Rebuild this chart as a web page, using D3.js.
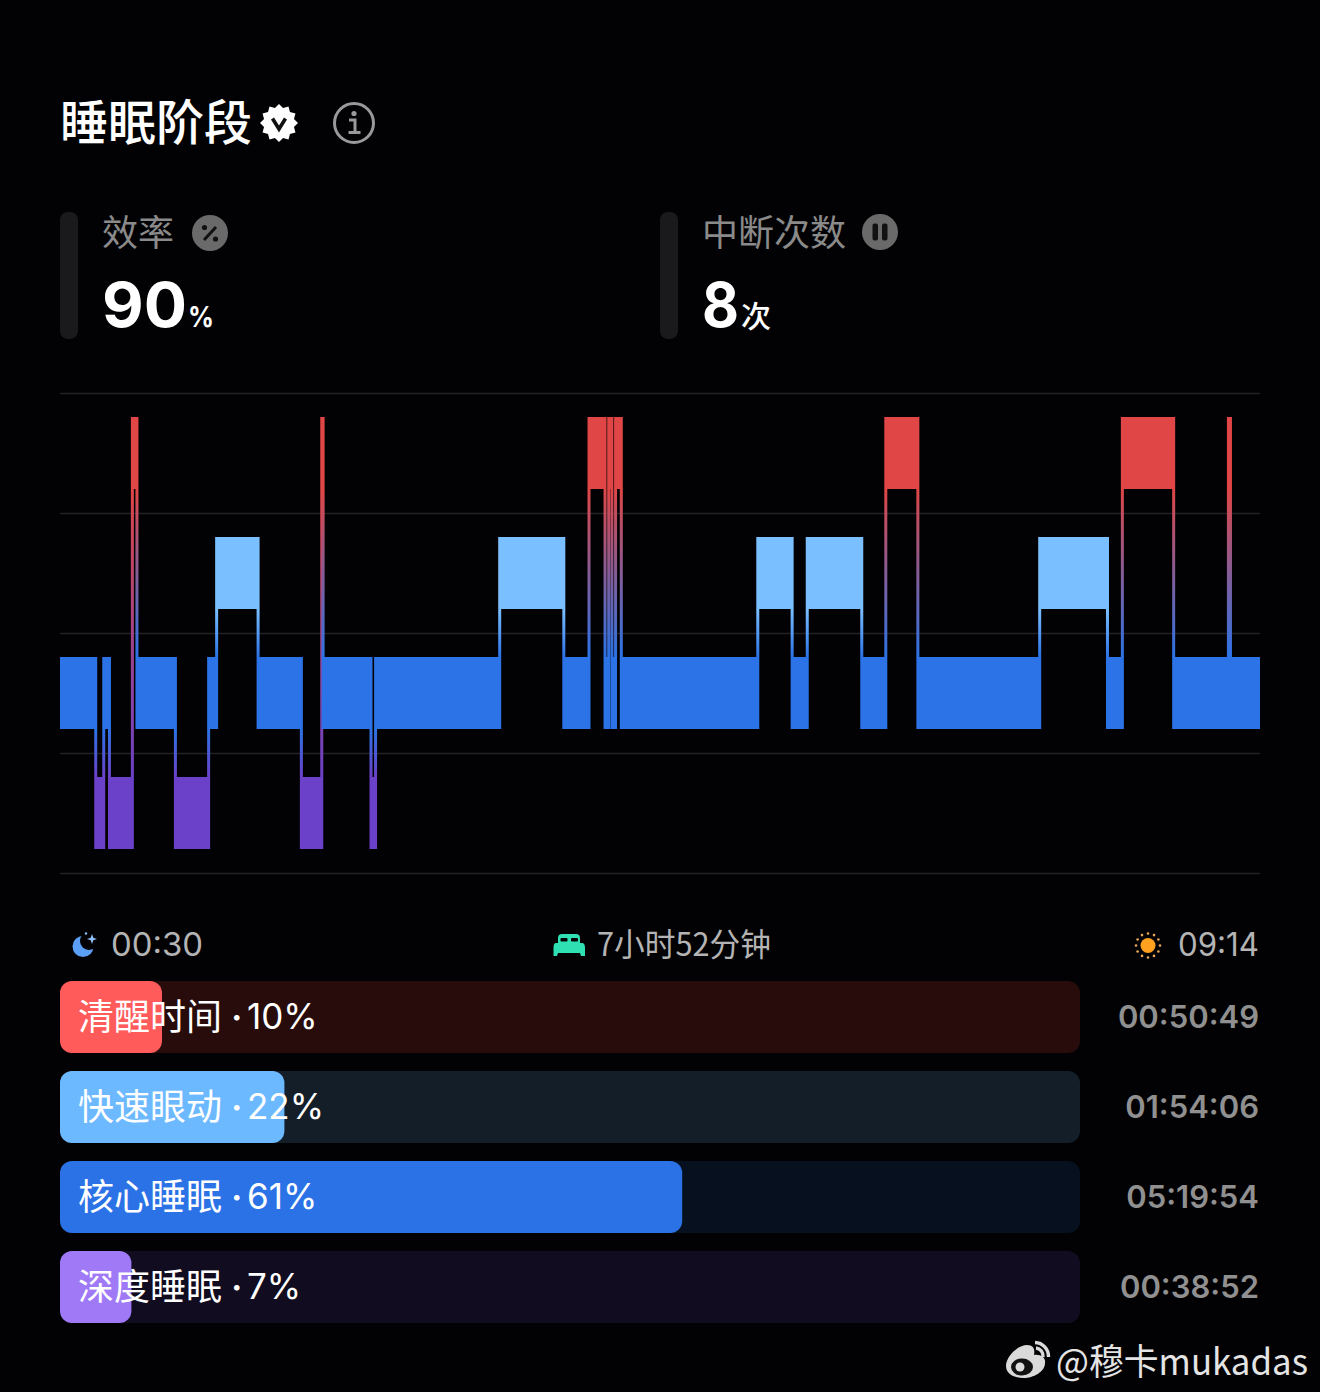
<!DOCTYPE html>
<html><head><meta charset="utf-8">
<script src="https://cdnjs.cloudflare.com/ajax/libs/d3/7.8.5/d3.min.js"></script>
<style>html,body{margin:0;padding:0;background:#020204}svg{display:block}
text{font-family:"Inter","Noto Sans CJK SC",sans-serif}
.cjk{font-family:"Noto Sans CJK SC","Inter",sans-serif}</style></head><body>
<svg id="c" width="1320" height="1392"></svg>
<script>
// ---- data ----
const stageNames = ["awake","rem","core","deep"];
const stageSeq = ["core","deep","core","deep","awake","core","deep","core","rem","core","deep","awake","core","deep","core","rem","core","awake","core","awake","core","awake","core","rem","core","rem","core","awake","core","rem","core","awake","core","awake","core"];
// minutes after falling asleep at which the stage changes
const changeMinutes = [15.6,19.1,21.6,31.6,33.6,50.4,64.9,68.4,86.5,105.4,114.3,114.9,135.8,137.8,192,220,231,238,239.6,241,242.6,245.1,304.7,319.7,326.3,350.1,360.6,374.6,427.8,457.4,463.9,486.3,510.2,511.1];
const totalMinutes = 524;
const stageColors = ["#E04646","#7ABFFF","#2C73E7","#6A41C8"];
const barNames = ["清醒时间","快速眼动","核心睡眠","深度睡眠"];
const barPercents = [10,22,61,7];
const barTimes = ["00:50:49","01:54:06","05:19:54","00:38:52"];
const barFg = ["#FF5B5B","#6DB9FF","#2B72E6","#A079F6"];
const barBg = ["#270C0B","#141E28","#07101F","#110C1F"];
const statLabels = ["效率","中断次数"];
const statValues = ["90","8"];
const statUnits = ["%","次"];
const gridRows = [0,1,2,3,4];

// ---- setup ----
const svg = d3.select("#c");
svg.append("rect").attr("width",1320).attr("height",1392).attr("fill","#020204");
const defs = svg.append("defs");
const T = (x,y,s,size,fill,o={})=>svg.append("text").attr("x",x).attr("y",y).text(s)
  .attr("font-size",size).attr("fill",fill).attr("font-weight",o.w||400)
  .attr("text-anchor",o.a||"start").attr("class",o.c||null)
  .attr("textLength",o.l||null).attr("lengthAdjust",o.l?"spacingAndGlyphs":null);

// ---- header ----
T(60,140,"睡眠阶段",48,"#fff",{w:500,c:"cjk"});
const star = d3.range(24).map(i=>{const a=i*Math.PI/12,r=i%2?15.5:19;return [279+r*Math.sin(a),123-r*Math.cos(a)];});
svg.append("path").attr("d",d3.line()(star)+"Z").attr("fill","#fff");
svg.append("path").attr("d","M272.5 118.5 L279 129 L285.5 118.5").attr("fill","none").attr("stroke","#111").attr("stroke-width",3.6);
svg.append("circle").attr("cx",354).attr("cy",123).attr("r",19.5).attr("fill","none").attr("stroke","#999").attr("stroke-width",3);
svg.append("circle").attr("cx",354).attr("cy",113.5).attr("r",2.6).attr("fill","#999");
svg.append("path").attr("d","M349 120 H355 V132 M348.5 132.5 H360.5").attr("fill","none").attr("stroke","#999").attr("stroke-width",3);

// ---- stats ----
[60,660].forEach((x,i)=>{
  svg.append("rect").attr("x",x).attr("y",212).attr("width",18).attr("height",127).attr("rx",8).attr("fill","#1A1A1D");
  T(x+42,246,statLabels[i],36,"#8A8A8A",{c:"cjk"});
});
svg.append("circle").attr("cx",210).attr("cy",233).attr("r",18).attr("fill","#6A6A6A");
svg.append("path").attr("d","M204 240 L216 227").attr("stroke","#111").attr("stroke-width",3);
svg.append("circle").attr("cx",204.5).attr("cy",227.5).attr("r",2.6).attr("fill","#111");
svg.append("circle").attr("cx",215.5).attr("cy",239).attr("r",2.6).attr("fill","#111");
svg.append("circle").attr("cx",880).attr("cy",232).attr("r",18).attr("fill","#6A6A6A");
[872.5,882].forEach(x=>svg.append("rect").attr("x",x).attr("y",223.5).attr("width",5.5).attr("height",17).attr("rx",2).attr("fill","#111"));
T(102,327,statValues[0],62,"#fff",{w:700,l:85});
T(188,327,statUnits[0],28,"#fff",{w:700,l:26});
T(702,327,statValues[1],62,"#fff",{w:700,l:37});
T(741,327,statUnits[1],30,"#fff",{w:500,c:"cjk"});

// ---- chart ----
const x = d3.scaleLinear().domain([0,totalMinutes]).range([60,1260]);
const row = d3.scaleLinear().domain([0,4]).range([393,873]);
const y = d3.scaleBand().domain(stageNames).range([393,873]);
const color = d3.scaleOrdinal().domain(stageNames).range(stageColors);
const bandH = y.bandwidth()*0.6, inset = y.bandwidth()*0.2, half = 1.5;

const grid = svg.append("g").call(d3.axisLeft(row).tickValues(gridRows).tickSize(-1200).tickFormat(""))
  .attr("transform","translate(60,0)");
grid.select(".domain").remove();
grid.selectAll("line").attr("stroke","#232325").attr("stroke-width",1.4);

const bounds = [0,...changeMinutes,totalMinutes];
const segs = stageSeq.map((s,i)=>({s,a:bounds[i],b:bounds[i+1],i}));
const links = segs.slice(1).map((d,i)=>({from:segs[i].s,to:d.s,t:d.a,i}));
links.forEach(l=>{
  const up = y(l.from)<y(l.to);
  const y1 = up? y(l.from)+inset+bandH : y(l.to)+inset+bandH;
  const y2 = up? y(l.to)+inset : y(l.from)+inset;
  l.y1=y1; l.y2=y2;
  const g = defs.append("linearGradient").attr("id","g"+l.i).attr("gradientUnits","userSpaceOnUse")
    .attr("x1",0).attr("x2",0).attr("y1",y1).attr("y2",y2);
  g.append("stop").attr("offset",0).attr("stop-color",color(up?l.from:l.to));
  g.append("stop").attr("offset",1).attr("stop-color",color(up?l.to:l.from));
});
svg.append("g").selectAll("rect").data(links).join("rect")
  .attr("x",d=>x(d.t)-half).attr("width",half*2)
  .attr("y",d=>d.y1).attr("height",d=>d.y2-d.y1)
  .attr("fill",d=>`url(#g${d.i})`);
svg.append("g").selectAll("rect").data(segs).join("rect")
  .attr("x",d=>Math.max(60,x(d.a)-half))
  .attr("width",d=>Math.min(1260,x(d.b)+half)-Math.max(60,x(d.a)-half))
  .attr("y",d=>y(d.s)+inset).attr("height",bandH)
  .attr("fill",d=>color(d.s));

// ---- time row ----
svg.append("circle").attr("cx",83).attr("cy",946.5).attr("r",10.5).attr("fill","#5B9EF6");
svg.append("circle").attr("cx",89).attr("cy",941).attr("r",9).attr("fill","#020204");
svg.append("path").attr("d","M92 934 l1.3 3.7 3.7 1.3 -3.7 1.3 -1.3 3.7 -1.3 -3.7 -3.7 -1.3 3.7 -1.3Z").attr("fill","#8FC0FA");
svg.append("circle").attr("cx",86).attr("cy",933.5).attr("r",1.2).attr("fill","#8FC0FA");
T(111,956,"00:30",32,"#B4B4B4",{l:92});
svg.append("path").attr("d","M558 943 V938 Q558 934 562 934 H576 Q580 934 580 938 V943 Z M556 943 H582 Q585 943 585 948 V956 H581 L580 953 H558 L557 956 H553.5 V948 Q553.5 943 556 943Z").attr("fill","#2FE0B2");
[560.5,571].forEach(px=>svg.append("rect").attr("x",px).attr("y",938).attr("width",7).attr("height",3.5).attr("rx",1).attr("fill","#020204"));
T(597,956,"7小时52分钟",32,"#B4B4B4",{c:"cjk",l:174});
svg.append("circle").attr("cx",1148).attr("cy",945.5).attr("r",7.5).attr("fill","#FFA11E");
svg.append("g").selectAll("circle").data(d3.range(12)).join("circle")
  .attr("cx",i=>1148+12*Math.cos(i*Math.PI/6)).attr("cy",i=>945.5+12*Math.sin(i*Math.PI/6))
  .attr("r",1.3).attr("fill","#E8A85A");
T(1259,956,"09:14",32,"#B4B4B4",{a:"end",l:81});

// ---- bars ----
const bx = d3.scaleLinear().domain([0,100]).range([60,1080]);
const by = d3.scaleBand().domain(barNames).range([981,1341]);
const barH = 72;
const rows = svg.append("g").selectAll("g").data(barNames).join("g")
  .attr("transform",d=>`translate(0,${by(d)})`);
rows.append("rect").attr("x",bx(0)).attr("width",bx(100)-bx(0)).attr("height",barH).attr("rx",12).attr("fill",(d,i)=>barBg[i]);
rows.append("rect").attr("x",bx(0)).attr("width",(d,i)=>bx(barPercents[i])-bx(0)).attr("height",barH).attr("rx",12).attr("fill",(d,i)=>barFg[i]);
const lab = rows.append("text").attr("y",48.5).attr("font-size",36).attr("fill","#fff");
lab.append("tspan").attr("x",78).attr("class","cjk").text(d=>d);
lab.append("tspan").attr("x",231).attr("font-weight",600).text("·");
lab.append("tspan").attr("x",247).attr("y",47.5).attr("font-size",35).text((d,i)=>barPercents[i]+"%");
rows.append("text").attr("x",1259).attr("y",47).text((d,i)=>barTimes[i]).attr("font-size",31).attr("font-weight",600).attr("fill","#909090").attr("text-anchor","end");

// ---- watermark ----
svg.append("path").attr("d","M1006 1366 C1006 1356 1018 1345 1027 1345 C1034 1345 1035 1350 1034 1355 C1041 1354 1046 1358 1045 1363 C1045 1372 1033 1378 1024 1378 C1014 1378 1006 1374 1006 1366Z").attr("fill","#DADADA");
svg.append("ellipse").attr("cx",1022).attr("cy",1367).attr("rx",11).attr("ry",8.5).attr("fill","#111");
svg.append("circle").attr("cx",1020).attr("cy",1367).attr("r",4.5).attr("fill","#ddd");
svg.append("path").attr("d","M1036 1348 A8 8 0 0 1 1043 1357 M1035 1342.5 A14 14 0 0 1 1048.5 1357").attr("fill","none").attr("stroke","#DADADA").attr("stroke-width",3.4);
T(1056,1375,"@穆卡mukadas",36,"#E4E4E4",{c:"cjk",l:252});
</script></body></html>
